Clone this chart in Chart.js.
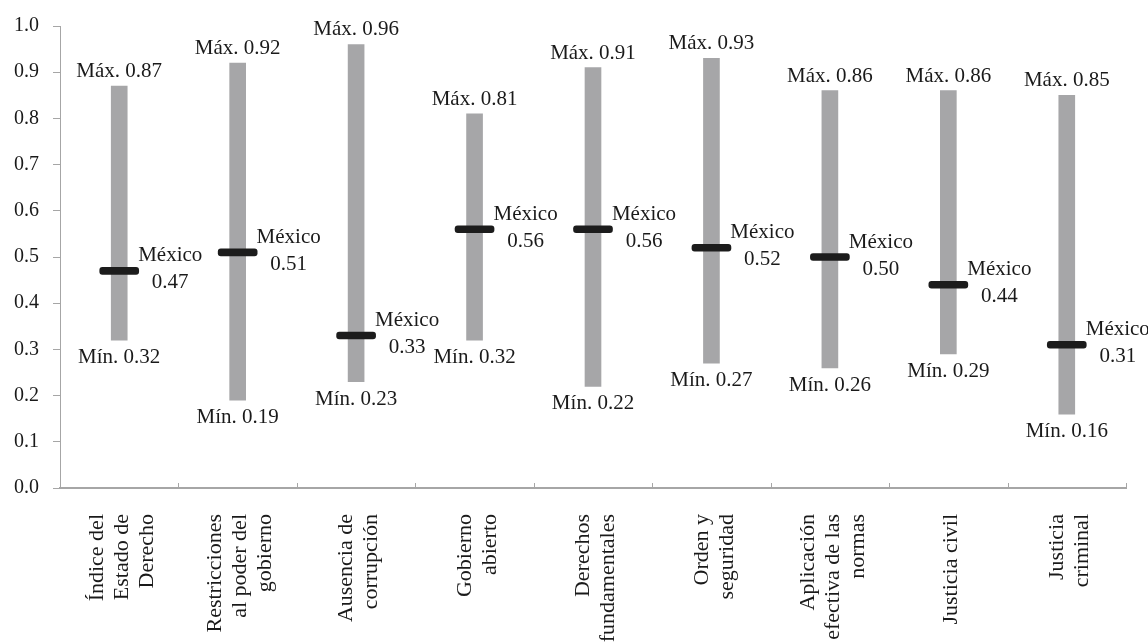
<!DOCTYPE html>
<html>
<head>
<meta charset="utf-8">
<script src="https://cdn.jsdelivr.net/npm/chart.js@4.4.0/dist/chart.umd.min.js"></script>
<style>
  body { margin: 0; background: #fff; }
</style>
</head>
<body>
<canvas id="myChart" width="1148" height="643"></canvas>
<script>
// Data
var categories = [
    ['Índice del', 'Estado de', 'Derecho'],
    ['Restricciones', 'al poder del', 'gobierno'],
    ['Ausencia de', 'corrupción'],
    ['Gobierno', 'abierto'],
    ['Derechos', 'fundamentales'],
    ['Orden y', 'seguridad'],
    ['Aplicación', 'efectiva de las', 'normas'],
    ['Justicia civil'],
    ['Justicia', 'criminal']
];
var maxValues = [0.87, 0.92, 0.96, 0.81, 0.91, 0.93, 0.86, 0.86, 0.85];
var minValues = [0.32, 0.19, 0.23, 0.32, 0.22, 0.27, 0.26, 0.29, 0.16];
var mexicoValues = [0.47, 0.51, 0.33, 0.56, 0.56, 0.52, 0.50, 0.44, 0.31];
var yTicks = [0.0, 0.1, 0.2, 0.3, 0.4, 0.5, 0.6, 0.7, 0.8, 0.9, 1.0];

var FONT = '"Liberation Serif", "DejaVu Serif", serif';
var AXIS = '#a6a6a6';

var ranges = minValues.map(function (v, i) { return [v, maxValues[i]]; });
var markers = mexicoValues.map(function (v) { return [v - 0.0075, v + 0.0075]; });

// labels for max / min / Mexico, plus the rotated category names
var labelPlugin = {
    id: 'rangeLabels',
    afterDatasetsDraw: function (chart) {
        var c = chart.ctx;
        var x = chart.scales.x, y = chart.scales.y;
        c.save();
        c.font = '21px ' + FONT;
        c.fillStyle = '#1a1a1a';
        c.textAlign = 'center';
        for (var i = 0; i < categories.length; i++) {
            var cx = x.getPixelForValue(i);
            c.textBaseline = 'bottom';
            c.fillText('Máx. ' + maxValues[i].toFixed(2), cx, y.getPixelForValue(maxValues[i]) - 4);
            c.textBaseline = 'top';
            c.fillText('Mín. ' + minValues[i].toFixed(2), cx, y.getPixelForValue(minValues[i]) + 7);
            var my = y.getPixelForValue(mexicoValues[i]);
            c.textBaseline = 'middle';
            c.fillText('México', cx + 51, my - 15);
            c.fillText(mexicoValues[i].toFixed(2), cx + 51, my + 12);
        }

        // category names, read bottom to top, lines centred on the bar
        c.font = '22px ' + FONT;
        c.textAlign = 'right';
        c.textBaseline = 'middle';
        var lh = 25;
        for (var j = 0; j < categories.length; j++) {
            var lines = categories[j];
            var base = x.getPixelForValue(j) + 3;
            for (var l = 0; l < lines.length; l++) {
                var lx = base + (l - (lines.length - 1) / 2) * lh;
                c.save();
                c.translate(lx, x.top + 26);
                c.rotate(-Math.PI / 2);
                c.fillText(lines[l], 0, 0);
                c.restore();
            }
        }

        // small upward tick marks on the category axis
        c.strokeStyle = AXIS;
        c.lineWidth = 1;
        var step = (x.right - x.left) / categories.length;
        for (var k = 1; k <= categories.length; k++) {
            var px = Math.round(x.left + k * step) + 0.5;
            c.beginPath();
            c.moveTo(px, x.top - 5);
            c.lineTo(px, x.top);
            c.stroke();
        }
        c.restore();
    }
};

var ctx = document.getElementById('myChart').getContext('2d');
var myChart = new Chart(ctx, {
    type: 'bar',
    data: {
        labels: categories,
        datasets: [{
            label: 'México',
            data: markers,
            backgroundColor: '#1c1c1c',
            borderRadius: 3,
            borderSkipped: false,
            barThickness: 39,
            grouped: false,
            order: 0
        }, {
            label: 'Rango',
            data: ranges,
            backgroundColor: '#a6a6a8',
            barThickness: 16,
            grouped: false,
            order: 1
        }]
    },
    options: {
        responsive: false,
        animation: false,
        layout: { padding: { top: 23, right: 22, left: 0, bottom: 0 } },
        plugins: {
            legend: { display: false },
            tooltip: { enabled: false }
        },
        scales: {
            x: {
                grid: { display: false },
                border: { color: AXIS, width: 2 },
                ticks: { display: false },
                afterFit: function (scale) { scale.height = 155; }
            },
            y: {
                min: 0,
                max: 1,
                grid: { drawOnChartArea: false, color: AXIS, tickLength: 7 },
                border: { color: AXIS, width: 1 },
                afterBuildTicks: function (scale) {
                    scale.ticks = yTicks.map(function (v) { return { value: v }; });
                },
                ticks: {
                    color: '#1a1a1a',
                    font: { family: FONT, size: 20 },
                    padding: 14,
                    callback: function (v) { return Number(v).toFixed(1); }
                },
                afterFit: function (scale) { scale.width = 60; }
            }
        }
    },
    plugins: [labelPlugin]
});
</script>
</body>
</html>
